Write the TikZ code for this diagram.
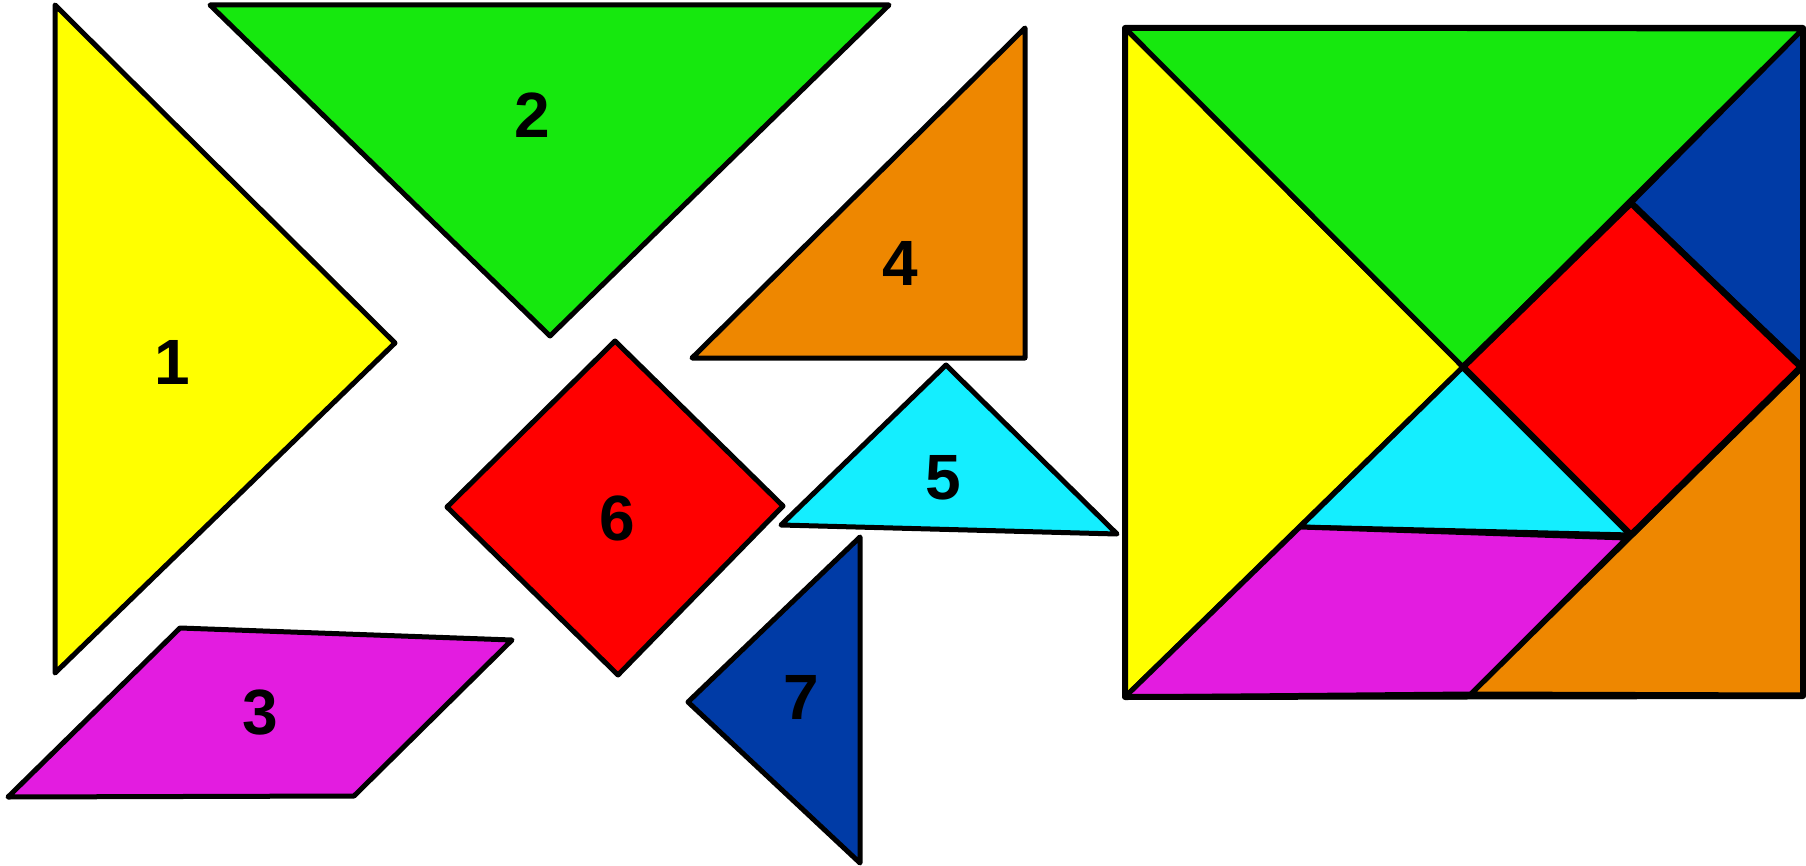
\documentclass[tikz,border=0pt]{standalone}
\usepackage{fontspec}
\setmainfont{Liberation Sans}
\begin{document}
\begin{tikzpicture}[x=1pt,y=-1pt,
  piece/.style={draw=black,line width=5pt,line join=round,line cap=round},
  lbl/.style={inner sep=0pt,font=\fontsize{64}{64}\selectfont\bfseries}]
\definecolor{cyel}{HTML}{FFFF00}
\definecolor{cgrn}{HTML}{16E80E}
\definecolor{cmag}{HTML}{E31CE0}
\definecolor{cora}{HTML}{EE8700}
\definecolor{ccya}{HTML}{14EEFF}
\definecolor{cred}{HTML}{FF0000}
\definecolor{cblu}{HTML}{003BA6}
\useasboundingbox (0,0) rectangle (1806,866);
% loose pieces
\filldraw[piece,fill=cyel] (55,5) -- (55,673) -- (395,343) -- cycle;
\node[lbl] (l1) at (172,362) {1};
\filldraw[piece,fill=cgrn] (210,5) -- (889,5) -- (550,336) -- cycle;
\node[lbl] (l2) at (532,115) {2};
\filldraw[piece,fill=cmag] (180,628) -- (512,640) -- (354,796) -- (8,797) -- cycle;
\node[lbl] (l3) at (260,713) {3};
\filldraw[piece,fill=cora] (1025,28) -- (1025,358) -- (692,358) -- cycle;
\node[lbl] (l4) at (900,263) {4};
\filldraw[piece,fill=ccya] (946,365) -- (1117,534) -- (781,525) -- cycle;
\node[lbl] (l5) at (943,478) {5};
\filldraw[piece,fill=cred] (615,341) -- (783,506) -- (618,675) -- (447,507) -- cycle;
\node[lbl] (l6) at (617,518) {6};
\filldraw[piece,fill=cblu] (860,537) -- (860,863) -- (688,702) -- cycle;
\node[lbl] (l7) at (801,697) {7};
% assembled square
\filldraw[piece,fill=cyel] (1125,28) -- (1463,367) -- (1125,697) -- cycle;
\filldraw[piece,fill=cgrn] (1125,28) -- (1803,29) -- (1463,367) -- cycle;
\filldraw[piece,fill=cblu] (1803,29) -- (1803,367) -- (1631,203) -- cycle;
\filldraw[piece,fill=ccya] (1463,367) -- (1631,535) -- (1300,527) -- cycle;
\filldraw[piece,fill=cmag] (1300,527) -- (1627,538) -- (1471,694) -- (1125,697) -- cycle;
\filldraw[piece,fill=cora] (1803,367) -- (1803,695) -- (1471,694) -- cycle;
\filldraw[piece,line width=6.5pt,fill=cred] (1631,203) -- (1801,367) -- (1631,535) -- (1463,367) -- cycle;
\draw[line width=6pt,line join=round] (1125,28) -- (1803,28) -- (1803,696) -- (1125,697) -- cycle;
\end{tikzpicture}
\end{document}
